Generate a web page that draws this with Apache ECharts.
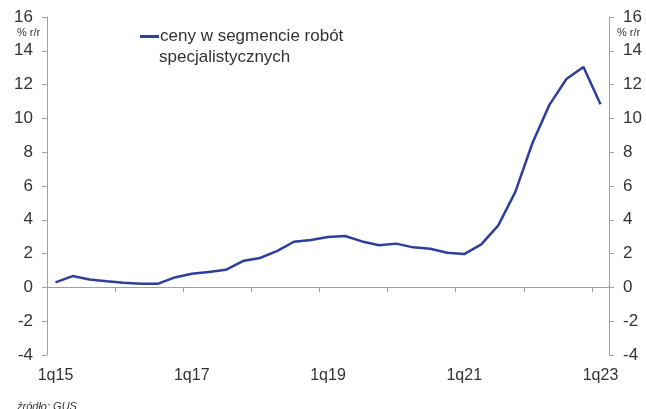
<!DOCTYPE html>
<html>
<head>
<meta charset="utf-8">
<script src="https://cdn.jsdelivr.net/npm/echarts@6/dist/echarts.min.js"></script>
<style>
  html, body { margin: 0; padding: 0; background: #fff; }
  #chart { width: 646px; height: 409px; }
</style>
</head>
<body>
<div id="chart"></div>
<script>
// Quarterly categories 1q15 .. 1q23
const years = [15, 16, 17, 18, 19, 20, 21, 22];
const categories = [];
years.forEach(y => { for (let q = 1; q <= 4; q++) categories.push(q + 'q' + y); });
categories.push('1q23');

// Prices in specialised construction works, % y/y
const priceGrowth = [
  0.30, 0.67, 0.47, 0.36, 0.27, 0.21, 0.21, 0.59,
  0.81, 0.91, 1.04, 1.56, 1.74, 2.15, 2.70, 2.80,
  2.98, 3.04, 2.72, 2.49, 2.59, 2.37, 2.29, 2.05,
  1.97, 2.55, 3.67, 5.65, 8.53, 10.80, 12.33, 13.04,
  10.84
];

const seriesName = 'ceny w segmencie robót';
const seriesName2 = 'specjalistycznych';
const unitLabel = '% r/r';
const sourceLabel = 'źródło: GUS';

const FONT = 'Liberation Sans, Arial, sans-serif';
const TEXT = '#333333';
const AXIS = '#a0a0a0';
const LINE = '#2e3f9a';

const chart = echarts.init(document.getElementById('chart'), null, { renderer: 'canvas' });

const yAxisBase = {
  type: 'value',
  min: -4, max: 16, interval: 2,
  splitLine: { show: false },
  axisLine: { show: true, lineStyle: { color: AXIS, width: 1 } },
  axisTick: { show: true, length: 5, lineStyle: { color: AXIS } },
  axisLabel: { fontFamily: FONT, fontSize: 17, color: TEXT, margin: 14 }
};

chart.setOption({
  animation: false,
  grid: { left: 47, right: 37, top: 17, bottom: 54, containLabel: false },
  legend: {
    show: true,
    orient: 'horizontal',
    left: 140, top: 28, right: null, bottom: null,
    padding: 0,
    itemWidth: 19, itemHeight: 3, itemGap: 0,
    icon: 'rect',
    textStyle: { fontFamily: FONT, fontSize: 17, color: TEXT, padding: [0, 0, 0, -4] },
    data: [{ name: seriesName, itemStyle: { color: LINE } }]
  },
  xAxis: [
    {
      type: 'category',
      data: categories,
      boundaryGap: true,
      position: 'bottom',
      axisLine: { show: false, onZero: false },
      axisTick: { show: false },
      axisLabel: { interval: 7, margin: 13, fontFamily: FONT, fontSize: 16, color: TEXT }
    },
    {
      type: 'category',
      data: categories,
      boundaryGap: true,
      position: 'bottom',
      axisLine: { show: true, onZero: true, lineStyle: { color: AXIS, width: 1 } },
      axisTick: { show: true, interval: 3, length: 5, lineStyle: { color: AXIS } },
      axisLabel: { show: false }
    }
  ],
  yAxis: [
    Object.assign({}, yAxisBase, { position: 'left' }),
    Object.assign({}, yAxisBase, { position: 'right' })
  ],
  graphic: [
    { type: 'text', left: 17, top: 27, style: { text: unitLabel, font: '11px ' + FONT, fill: TEXT } },
    { type: 'text', left: 617, top: 27, style: { text: unitLabel, font: '11px ' + FONT, fill: TEXT } },
    { type: 'text', left: 159, top: 49, style: { text: seriesName2, font: '17px ' + FONT, fill: TEXT } },
    { type: 'text', left: 17, top: 401, style: { text: sourceLabel, font: 'italic 11px ' + FONT, fill: TEXT } }
  ],
  series: [
    {
      name: seriesName,
      type: 'line',
      xAxisIndex: 0,
      yAxisIndex: 0,
      data: priceGrowth,
      symbol: 'none',
      lineStyle: { color: LINE, width: 2.5 },
      itemStyle: { color: LINE }
    }
  ]
});
</script>
</body>
</html>
